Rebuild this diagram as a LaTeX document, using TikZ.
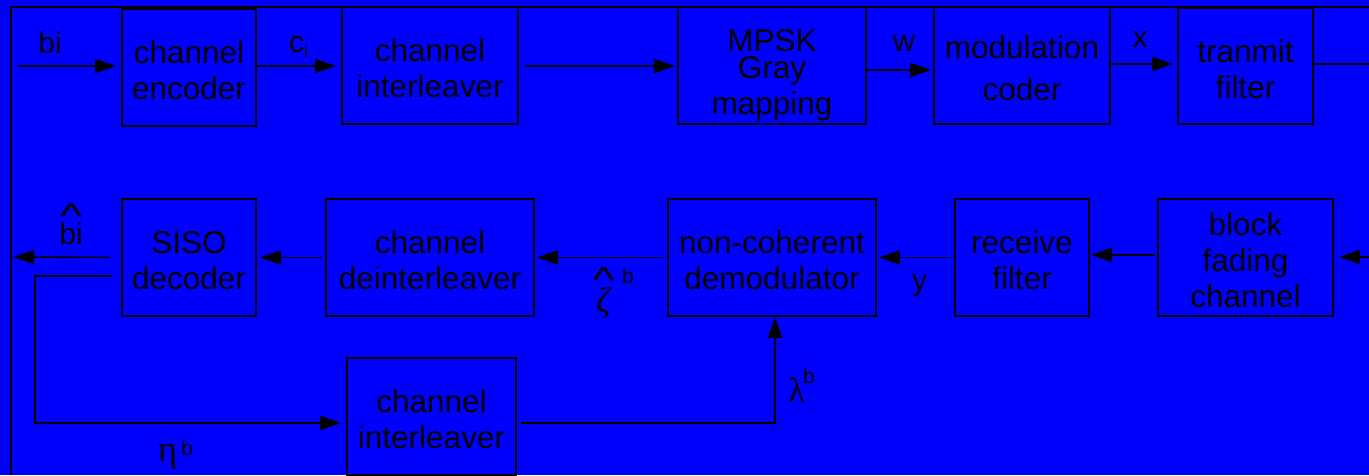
\documentclass[tikz,border=0pt]{standalone}
\usepackage{fontspec}
\usepackage{graphicx}
\setmainfont{Liberation Sans}
\newfontfamily\grk{Liberation Serif}
\usetikzlibrary{arrows.meta}
\definecolor{bg}{RGB}{0,0,255}
\newcommand{\upst}{\rule{0pt}{29pt}}
\newcommand{\hatc}[2]{\ooalign{\hfil\raisebox{#1}{\normalfont\fontsize{36}{36}\selectfont\scalebox{1.3}[1]{\textasciicircum}}\hfil\cr\hfil #2\hfil\cr}}
\begin{document}
\begin{tikzpicture}[x=1pt,y=-1pt,
  blk/.style={draw=black, line width=1.6pt, inner sep=0pt, align=center,
    font=\fontsize{31.5}{36}\selectfont, text=black},
  txt/.style={inner sep=0pt, align=center, font=\fontsize{31.5}{36}\selectfont, text=black},
  arr/.style={draw=black, line width=1.6pt, -{Triangle[length=21pt,width=14pt]}},
  ln/.style={draw=black, line width=1.6pt},
  lbl/.style={inner sep=0pt, font=\fontsize{30}{34}\selectfont, text=black},
  sup/.style={inner sep=0pt, font=\fontsize{21}{24}\selectfont, text=black}]
\fill[bg] (0,0) rectangle (1369,475);
\useasboundingbox (0,0) rectangle (1369,475);
% frame
\draw[ln] (11,475) -- (11,7) -- (1369,7);
% top row
\node[blk, minimum width=134pt, minimum height=117pt] (enc) at (189,67.5) {\upst channel\\encoder};
\node[blk, minimum width=176pt, minimum height=117pt] (int1) at (430,65.5) {\upst channel\\interleaver};
\node[blk, minimum width=188pt, minimum height=117pt] (mpsk) at (772,65.5) {};
\node[txt] (mpskt) at (772,75.5) {MPSK\\[-9pt]Gray\\mapping};
\node[blk, minimum width=176pt, minimum height=117pt] (mod) at (1022,65.5) {\upst modulation\\[6pt]coder};
\node[blk, minimum width=135pt, minimum height=116pt] (tx) at (1245.5,66) {\upst tranmit\\filter};
% middle row
\node[blk, minimum width=134pt, minimum height=117pt] (siso) at (189,257.5) {\upst SISO\\decoder};
\node[blk, minimum width=208pt, minimum height=117pt] (deint) at (430,257.5) {\upst channel\\deinterleaver};
\node[blk, minimum width=208pt, minimum height=117pt] (demod) at (772,257.5) {\upst non-coherent\\demodulator};
\node[blk, minimum width=134pt, minimum height=117pt] (rx) at (1022,257.5) {\upst receive\\filter};
\node[blk, minimum width=175pt, minimum height=117pt] (bfc) at (1245.5,257.5) {\upst block\\fading\\channel};
% bottom
\node[blk, minimum width=169pt, minimum height=117pt] (int2) at (431.5,416.5) {\upst channel\\interleaver};
% coordinates
\coordinate (bin) at (18,66);
\coordinate (txo) at (1369,64);
\coordinate (rin) at (1369,257);
\coordinate (bout) at (13,257);
\coordinate (fb) at (35,423);
% top connectors
\draw[arr, shorten >=5pt] (bin) -- (bin -| enc.west);
\draw[arr, shorten >=5pt] (enc.east |- bin) -- (int1.west |- bin);
\draw[arr, shorten <=6pt, shorten >=2pt] (int1.east |- bin) -- (mpsk.west |- bin);
\draw[arr, shorten >=2pt] ([yshift=-4.5pt]mpsk.east) -- ([yshift=-4.5pt]mod.west);
\draw[arr, shorten >=4pt] (mod.east |- txo) -- (tx.west |- txo);
\draw[ln] (tx.east |- txo) -- (txo);
% middle connectors
\draw[arr, shorten >=5pt] (rin) -- (bfc.east |- rin);
\draw[arr, shorten <=2pt, shorten >=1pt] ([yshift=2.5pt]bfc.west) -- ([yshift=2.5pt]rx.east);
\draw[arr, shorten <=2pt, shorten >=2pt] (rx.west) -- (demod.east);
\draw[arr, shorten <=3pt, shorten >=2pt] (demod.west) -- (deint.east);
\draw[arr, shorten <=3pt, shorten >=3pt] (deint.west) -- (siso.east);
\draw[arr, shorten <=11pt] (siso.west) -- (bout);
% feedback
\draw[arr, shorten >=5pt] ([xshift=-9pt,yshift=-18.5pt]siso.west) -| (fb) -- ([yshift=-6.5pt]int2.west);
\draw[arr] ([xshift=4pt,yshift=-6.5pt]int2.east) -| ([xshift=3pt]demod.south);
% labels
\node[lbl, anchor=base] (lbi) at (50,53) {bi};
\node[lbl, anchor=base west] (lci) at (289,52) {c\raisebox{-5pt}{\fontsize{18}{20}\selectfont i}};
\node[lbl, anchor=base] (lw) at (904,51) {w};
\node[lbl, anchor=base] (lx) at (1140,47) {x};
\node[lbl, anchor=base] (ly) at (919.5,290.5) {y};
\node[lbl, anchor=base] (lbh) at (71,244) {\hatc{16pt}{bi}};
\node[lbl, anchor=base, font=\grk\itshape\fontsize{36}{38}\selectfont] (lz) at (603.5,312) {\hatc{20pt}{ζ}};
\node[sup, anchor=base west] (lzb) at (622,283) {b};
\node[lbl, font=\grk\fontsize{37}{38}\selectfont] (leta) at (167.5,456.5) {η};
\node[sup, anchor=base west] (letab) at (181,455) {b};
\node[lbl, font=\grk\fontsize{35}{38}\selectfont] (llam) at (796.5,390) {λ};
\node[sup, anchor=base west] (llamb) at (803,383) {b};
\end{tikzpicture}
\end{document}
